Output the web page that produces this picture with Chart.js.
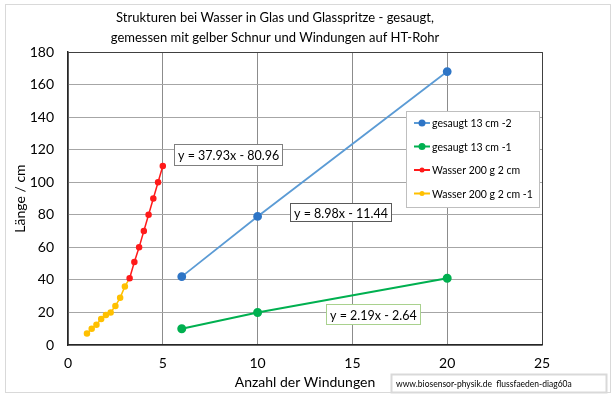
<!DOCTYPE html>
<html>
<head>
<meta charset="utf-8">
<script src="https://cdn.jsdelivr.net/npm/chart.js@4"></script>
<style>
  html, body { margin: 0; padding: 0; background: #fff; }
  #wrap { width: 613px; height: 413px; }
</style>
</head>
<body>
<div id="wrap"><canvas id="chart" width="613" height="413"></canvas></div>
<script>
// Werte
const seriesNames = ["gesaugt 13 cm -2", "gesaugt 13 cm -1", "Wasser 200 g 2 cm", "Wasser 200 g 2 cm -1"];

const blueX = [6, 10, 20];
const blueY = [42, 79, 168];

const greenX = [6, 10, 20];
const greenY = [10, 20, 41];

const redX = [3.25, 3.5, 3.75, 4, 4.25, 4.5, 4.75, 5];
const redY = [41, 51, 60, 70, 80, 90, 100, 110];

// letzter Punkt schließt an die rote Reihe an
const yellowX = [1, 1.25, 1.5, 1.75, 2, 2.25, 2.5, 2.75, 3, 3.25];
const yellowY = [7, 10, 12.5, 16, 18.5, 20, 24, 29, 36, 41];

const xTicks = [0, 5, 10, 15, 20, 25];
const yTicks = [0, 20, 40, 60, 80, 100, 120, 140, 160, 180];

const equations = ["y = 37.93x - 80.96", "y = 8.98x - 11.44", "y = 2.19x - 2.64"];

const FONT = "Lato, 'Open Sans', sans-serif";
const COLORS = {
  blueLine: "#5b9bd5", bluePoint: "#2e75c6",
  green: "#00b050",
  red: "#ff1a1a",
  yellow: "#ffc000"
};

const toPoints = (xs, ys) => xs.map((x, i) => ({ x, y: ys[i] }));

// Rahmen um das ganze Bild
const frame = {
  id: "frame",
  beforeDraw(chart) {
    const c = chart.ctx;
    c.save();
    c.fillStyle = "#fff";
    c.fillRect(0, 0, chart.width, chart.height);
    c.strokeStyle = "#d9d9d9";
    c.lineWidth = 1;
    c.strokeRect(5.5, 4.5, 605, 388);
    c.restore();
  }
};

// Legende im Diagramm, Gleichungen und Quellenangabe
const overlays = {
  id: "overlays",
  afterDatasetsDraw(chart, args, opts) {
    const c = chart.ctx;
    const xs = chart.scales.x, ys = chart.scales.y;
    c.save();

    // Gleichungskästen
    c.font = "12.5px " + FONT;
    c.textBaseline = "middle";
    c.textAlign = "left";
    opts.eq.forEach((e, i) => {
      const px = xs.getPixelForValue(e.x);
      const py = ys.getPixelForValue(e.y);
      const w = Math.round(c.measureText(equations[i]).width + 7);
      const h = e.h;
      const l = Math.round(px - w / 2) + 0.5, t = Math.round(py - h / 2) + 0.5;
      c.fillStyle = "#fff";
      c.fillRect(l, t, w, h);
      c.strokeStyle = e.border;
      c.lineWidth = 1;
      c.strokeRect(l, t, w, h);
      c.fillStyle = "#000";
      c.fillText(equations[i], l + 3.5, t + h / 2 + 1);
    });

    // Legende
    const L = opts.legend;
    c.fillStyle = "#fff";
    c.fillRect(L.x, L.y, L.w, L.h);
    c.strokeStyle = "#bfbfbf";
    c.strokeRect(L.x + 0.5, L.y + 0.5, L.w, L.h);
    c.font = "10.5px " + FONT;
    const ds = chart.data.datasets;
    seriesNames.forEach((name, i) => {
      const y = L.y + 12 + i * 23.5;
      const d = ds[i];
      c.strokeStyle = d.borderColor;
      c.lineWidth = 2;
      c.beginPath();
      c.moveTo(L.x + 8, y);
      c.lineTo(L.x + 24, y);
      c.stroke();
      c.fillStyle = d.pointBackgroundColor;
      c.beginPath();
      c.arc(L.x + 16, y, i < 2 ? 3.5 : 2.5, 0, Math.PI * 2);
      c.fill();
      c.fillStyle = "#000";
      c.fillText(name, L.x + 26, y + 1);
    });

    // Quelle
    const S = opts.source;
    c.fillStyle = "#fff";
    c.fillRect(S.x, S.y, S.w, S.h);
    c.strokeStyle = "#d9d9d9";
    c.strokeRect(S.x + 0.5, S.y + 0.5, S.w, S.h);
    c.font = "8.5px " + FONT;
    c.fillStyle = "#000";
    c.fillText("www.biosensor-physik.de  flussfaeden-diag60a", S.x + 5, S.y + S.h / 2 + 1);

    c.restore();
  }
};

new Chart(document.getElementById("chart"), {
  type: "scatter",
  data: {
    datasets: [
      {
        label: seriesNames[0],
        data: toPoints(blueX, blueY),
        showLine: true,
        borderColor: COLORS.blueLine,
        borderWidth: 1.8,
        pointBackgroundColor: COLORS.bluePoint,
        pointBorderColor: COLORS.bluePoint,
        pointRadius: 3.5
      },
      {
        label: seriesNames[1],
        data: toPoints(greenX, greenY),
        showLine: true,
        borderColor: COLORS.green,
        borderWidth: 2,
        pointBackgroundColor: COLORS.green,
        pointBorderColor: COLORS.green,
        pointRadius: 3.5
      },
      {
        label: seriesNames[2],
        data: toPoints(redX, redY),
        showLine: true,
        borderColor: COLORS.red,
        borderWidth: 1.5,
        pointBackgroundColor: COLORS.red,
        pointBorderColor: COLORS.red,
        pointRadius: 2.5
      },
      {
        label: seriesNames[3],
        data: toPoints(yellowX, yellowY),
        showLine: true,
        borderColor: COLORS.yellow,
        borderWidth: 1.5,
        pointBackgroundColor: COLORS.yellow,
        pointBorderColor: COLORS.yellow,
        pointRadius: ctx => ctx.dataIndex === yellowX.length - 1 ? 0 : 2.5
      }
    ]
  },
  options: {
    responsive: false,
    animation: false,
    layout: { padding: { left: 8, right: 71, top: 0, bottom: 20 } },
    plugins: {
      legend: { display: false },
      tooltip: { enabled: false },
      title: {
        display: true,
        text: [
          "Strukturen bei Wasser in Glas und Glasspritze - gesaugt,",
          "gemessen mit gelber Schnur und Windungen auf HT-Rohr"
        ],
        color: "#000",
        font: { family: FONT, size: 13, weight: "normal", lineHeight: 1.54 },
        padding: { top: 8, bottom: 4 }
      },
      overlays: {
        eq: [
          { x: 8.42, y: 116.8, h: 21, border: "#7f7f7f" },
          { x: 14.35, y: 82, h: 18, border: "#595959" },
          { x: 16.09, y: 19, h: 20, border: "#a9d18e" }
        ],
        legend: { x: 406, y: 111, w: 133, h: 96 },
        source: { x: 391, y: 374, w: 215, h: 18 }
      }
    },
    scales: {
      x: {
        type: "linear",
        min: 0,
        max: 25,
        afterBuildTicks: s => { s.ticks = xTicks.map(v => ({ value: v })); },
        afterFit: s => { s.height = 48; },
        grid: {
          color: c => c.tick && c.tick.value === 25 ? "#404040" : "#8c8c8c",
          lineWidth: 1,
          drawTicks: false
        },
        border: { color: "#262626", width: 1.5 },
        ticks: { color: "#000", font: { family: FONT, size: 14 }, padding: 10, maxRotation: 0 },
        title: {
          display: true,
          text: "Anzahl der Windungen",
          color: "#000",
          font: { family: FONT, size: 14 },
          padding: { top: 0, bottom: 2 }
        }
      },
      y: {
        type: "linear",
        min: 0,
        max: 180,
        afterBuildTicks: s => { s.ticks = yTicks.map(v => ({ value: v })); },
        afterFit: s => { s.width = 60; },
        grid: {
          color: c => c.tick && c.tick.value === 180 ? "#404040" : "#a6a6a6",
          lineWidth: 1,
          drawTicks: false
        },
        border: { color: "#262626", width: 1.5 },
        ticks: { color: "#000", font: { family: FONT, size: 14 }, padding: 14 },
        title: {
          display: true,
          text: "Länge / cm",
          color: "#000",
          font: { family: FONT, size: 14 },
          padding: { top: 4, bottom: 0 }
        }
      }
    }
  },
  plugins: [frame, overlays]
});
</script>
</body>
</html>
